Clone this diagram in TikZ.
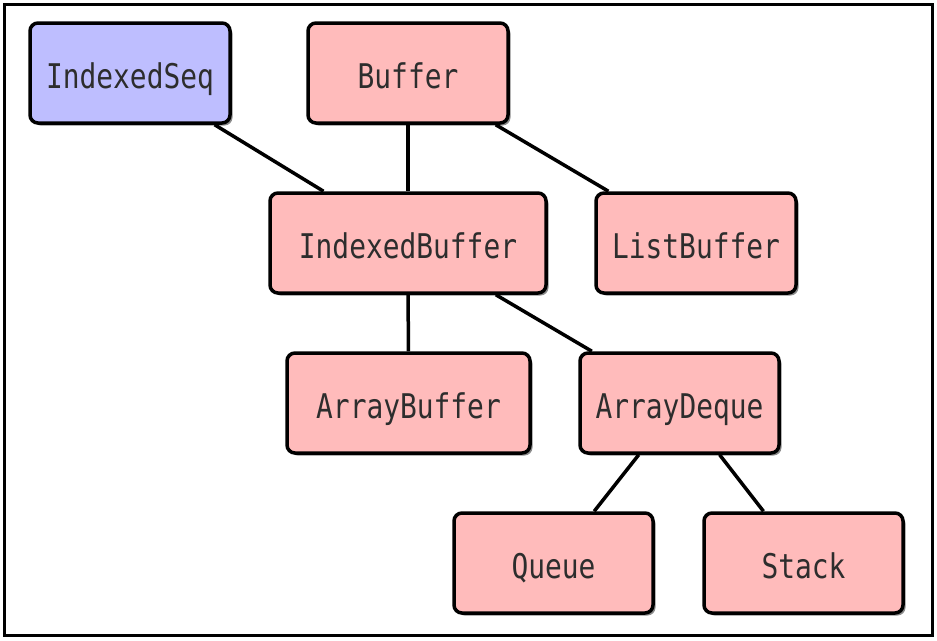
\documentclass[tikz,border=0pt]{standalone}
\usepackage{fontspec}
\setmonofont[FakeStretch=0.82]{DejaVu Sans Mono}
\usepackage{tikz}
\usetikzlibrary{shadows}

\definecolor{boxpink}{RGB}{255,187,187}
\definecolor{boxblue}{RGB}{190,190,255}
\definecolor{boxtext}{RGB}{45,45,45}

\tikzset{
	cls/.style={draw=black, line width=3.5pt, rounded corners=8pt, fill=boxpink,
		minimum height=100pt, minimum width=200pt, inner sep=0pt,
		text height=55pt, text depth=25pt,
		text=boxtext, font=\ttfamily\fontsize{34}{38}\selectfont,
		drop shadow={shadow xshift=2.5pt, shadow yshift=-2.5pt, fill=black, opacity=0.45}},
	trait/.style={cls, fill=boxblue},
	link/.style={line width=3.5pt, black}
}

\begin{document}
\begin{tikzpicture}[x=1pt, y=-1pt]
			\useasboundingbox (0, 0) rectangle (937, 640);
			\draw[line width=3.5pt](4.5, 4.5) rectangle (932.5, 635.5);

			\node[trait] (iseq) at (130, 73) {IndexedSeq};
			\node[cls] (buf) at (408, 73) {Buffer};
			\node[cls, minimum width=276pt] (ibuf) at (408, 243) {IndexedBuffer};
			\node[cls] (lbuf) at (696, 243) {ListBuffer};
			\node[cls, minimum width=243pt] (abuf) at (408.5, 403) {ArrayBuffer};
			\node[cls, minimum width=199pt] (adeq) at (679.5, 403) {ArrayDeque};
			\node[cls, minimum width=199pt] (queue) at (553.5, 563) {Queue};
			\node[cls, minimum width=199pt] (stack) at (803.5, 563) {Stack};

			\draw[link](iseq)--(ibuf);
			\draw[link](buf)--(ibuf);
			\draw[link](buf)--(lbuf);
			\draw[link](ibuf)--(abuf);
			\draw[link](ibuf)--(adeq);
			\draw[link](adeq)--(queue);
			\draw[link](adeq)--(stack);
		\end{tikzpicture}
\end{document}
